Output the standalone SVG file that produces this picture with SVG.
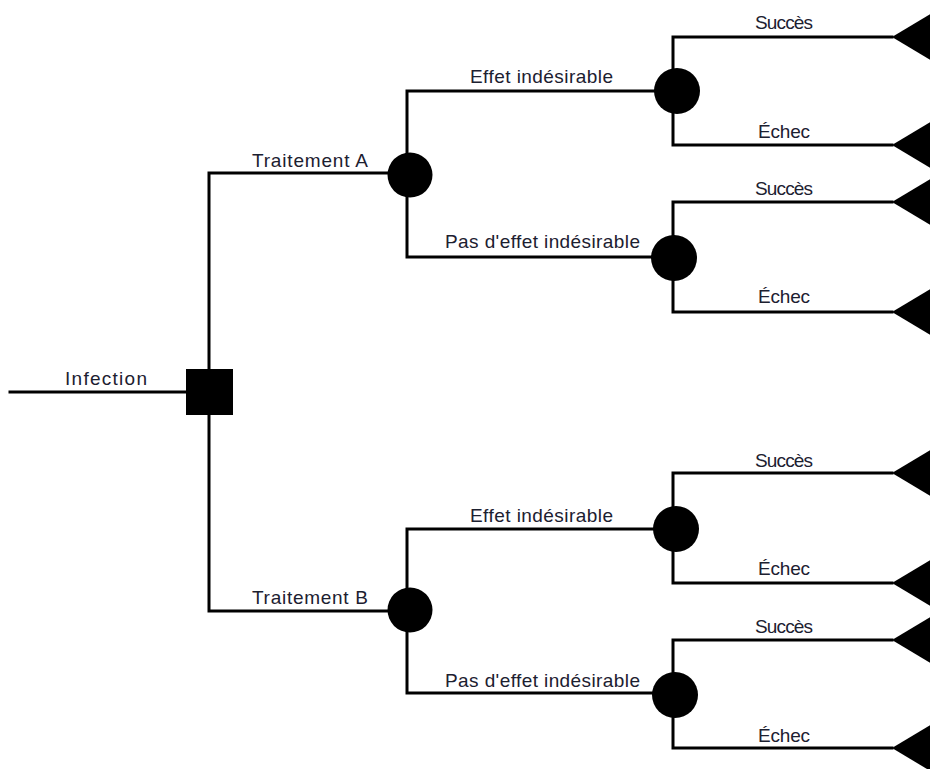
<svg xmlns="http://www.w3.org/2000/svg" width="930" height="769" viewBox="0 0 930 769">
  <style>
    .edge { fill: none; stroke: #000; stroke-width: 3; stroke-linejoin: miter; stroke-linecap: square; }
    .node { fill: #000; }
    .lbl { font-family: "Liberation Sans", Arial, sans-serif; font-size: 19px; fill: #1c2030; text-anchor: middle; }
  </style>
  <rect width="930" height="769" fill="#fff"/>

  <!-- branches -->
  <g id="connectors">
    <path class="edge" d="M10 392 H209"/>
    <path class="edge" d="M409 173 H209 V611 H409"/>
    <!-- treatment A -->
    <path class="edge" d="M675 91 H407 V257 H673"/>
    <path class="edge" d="M892 37 H673 V145 H892"/>
    <path class="edge" d="M892 202 H673 V312 H892"/>
    <!-- treatment B -->
    <path class="edge" d="M675 529 H407 V693 H673"/>
    <path class="edge" d="M892 473 H673 V583 H892"/>
    <path class="edge" d="M892 640 H673 V748 H892"/>
  </g>

  <!-- decision -->
  <g id="decision">
    <rect class="node" x="186" y="369" width="47" height="46"/>
    <text class="lbl" x="106" y="385" textLength="82">Infection</text>
  </g>

  <!-- chance nodes -->
  <g id="chance-a">
    <circle class="node" cx="410" cy="175" r="22.5"/>
    <text class="lbl" x="310" y="167" textLength="116">Traitement A</text>
  </g>
  <g id="chance-b">
    <circle class="node" cx="410" cy="610" r="22.5"/>
    <text class="lbl" x="310" y="604" textLength="116">Traitement B</text>
  </g>
  <g id="chance-a1">
    <circle class="node" cx="677" cy="91" r="23"/>
    <text class="lbl" x="541.5" y="83" textLength="143">Effet indésirable</text>
  </g>
  <g id="chance-a2">
    <circle class="node" cx="674" cy="258" r="23"/>
    <text class="lbl" x="542.5" y="248" textLength="195">Pas d'effet indésirable</text>
  </g>
  <g id="chance-b1">
    <circle class="node" cx="676" cy="529" r="23"/>
    <text class="lbl" x="541.5" y="522" textLength="143">Effet indésirable</text>
  </g>
  <g id="chance-b2">
    <circle class="node" cx="675" cy="695" r="23"/>
    <text class="lbl" x="542.5" y="687" textLength="195">Pas d'effet indésirable</text>
  </g>

  <!-- terminal nodes -->
  <g id="end-a1-s">
    <polygon class="node" points="892,37 932,13 932,61"/>
    <text class="lbl" x="784" y="29" textLength="58">Succès</text>
  </g>
  <g id="end-a1-f">
    <polygon class="node" points="892,145 932,121 932,169"/>
    <text class="lbl" x="784" y="138" textLength="52">Échec</text>
  </g>
  <g id="end-a2-s">
    <polygon class="node" points="892,202 932,178 932,226"/>
    <text class="lbl" x="784" y="195" textLength="58">Succès</text>
  </g>
  <g id="end-a2-f">
    <polygon class="node" points="892,312 932,288 932,336"/>
    <text class="lbl" x="784" y="303" textLength="52">Échec</text>
  </g>
  <g id="end-b1-s">
    <polygon class="node" points="892,473 932,449 932,497"/>
    <text class="lbl" x="784" y="467" textLength="58">Succès</text>
  </g>
  <g id="end-b1-f">
    <polygon class="node" points="892,583 932,559 932,607"/>
    <text class="lbl" x="784" y="575" textLength="52">Échec</text>
  </g>
  <g id="end-b2-s">
    <polygon class="node" points="892,640 932,616 932,664"/>
    <text class="lbl" x="784" y="633" textLength="58">Succès</text>
  </g>
  <g id="end-b2-f">
    <polygon class="node" points="892,748 932,724 932,772"/>
    <text class="lbl" x="784" y="742" textLength="52">Échec</text>
  </g>
</svg>
